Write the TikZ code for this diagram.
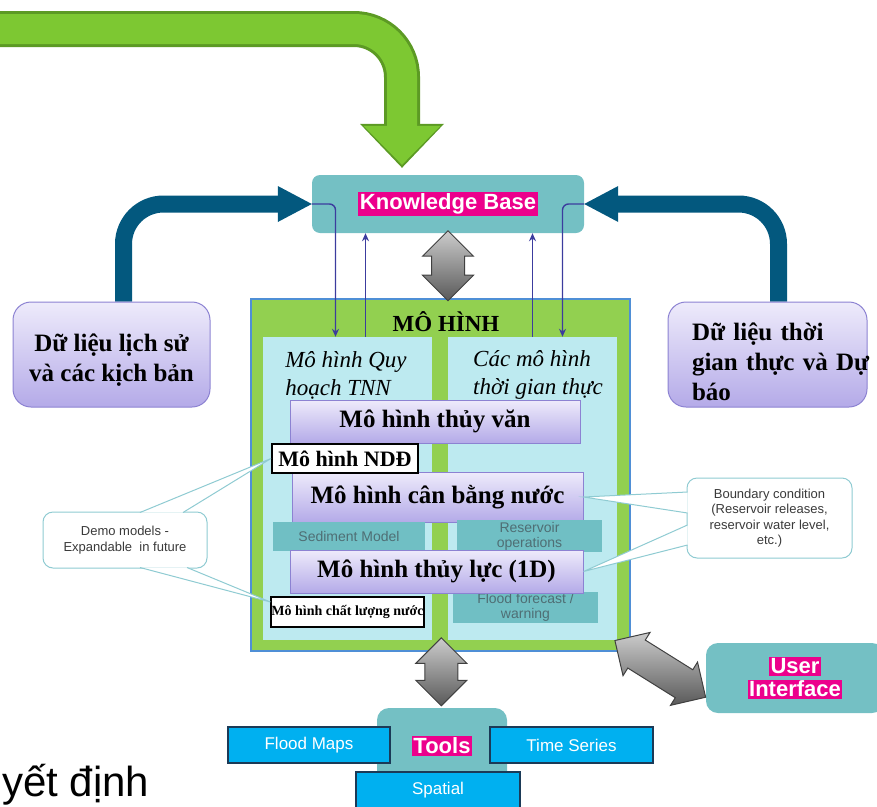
\documentclass[tikz,border=0pt]{standalone}
\usepackage{fontspec}
\setmainfont{Liberation Serif}
\setsansfont{Liberation Sans}
\usepackage{tikz}
\usetikzlibrary{calc}
\usetikzlibrary{positioning}
\usetikzlibrary{arrows.meta}
\usetikzlibrary{shapes.arrows}
\usetikzlibrary{backgrounds}

\definecolor{greenfill}{HTML}{7DC832}
\definecolor{greenline}{HTML}{5C9A24}
\definecolor{bluearrow}{HTML}{03587E}
\definecolor{tealkb}{HTML}{74C0C4}
\definecolor{tealsub}{HTML}{70BFC4}
\definecolor{tealtext}{HTML}{4F6E74}
\definecolor{modelgreen}{HTML}{92D050}
\definecolor{modeledge}{HTML}{4F8FD6}
\definecolor{panelcyan}{HTML}{BDEAF0}
\definecolor{lavtop}{HTML}{EEEBFB}
\definecolor{lavbot}{HTML}{B4AAE8}
\definecolor{lavedge}{HTML}{8C82D2}
\definecolor{toolblue}{HTML}{00B0F0}
\definecolor{tooledge}{HTML}{1B3A57}
\definecolor{linkblue}{HTML}{3C3C9E}
\definecolor{calledge}{HTML}{8FCBD2}
\definecolor{calltext}{HTML}{3A3A3A}

\newcommand{\hilite}[1]{{\setlength{\fboxsep}{1.5pt}\colorbox{magenta}{\textcolor{white}{#1}}}}

\begin{document}
\begin{tikzpicture}[x=1pt, y=-1pt, font=\sffamily]
    \tikzstyle{tealbox}=[fill=tealkb, rounded corners=8pt, inner sep=0pt, font=\sffamily\bfseries\fontsize{22}{23}\selectfont]
    \tikzstyle{lavbox}=[draw=lavedge, line width=1pt, top color=lavtop, bottom color=lavbot, inner sep=0pt]
    \tikzstyle{databox}=[lavbox, rounded corners=18pt]
    \tikzstyle{datatext}=[inner sep=0pt, font=\rmfamily\bfseries\fontsize{25}{30}\selectfont]
    \tikzstyle{modelbox}=[lavbox, font=\rmfamily\bfseries\fontsize{25}{28}\selectfont]
    \tikzstyle{panel}=[fill=panelcyan, inner sep=0pt]
    \tikzstyle{paneltext}=[inner sep=0pt, align=left, font=\rmfamily\itshape\fontsize{23}{28}\selectfont]
    \tikzstyle{whitebox}=[draw=black, line width=2pt, fill=white, inner sep=0pt]
    \tikzstyle{subbox}=[fill=tealsub, text=tealtext, inner sep=0pt, align=center, font=\sffamily\fontsize{14}{15}\selectfont]
    \tikzstyle{toolbox}=[fill=toolblue, draw=tooledge, line width=1.2pt, text=white, inner sep=0pt, font=\sffamily\fontsize{17}{20}\selectfont]
    \tikzstyle{callout}=[draw=calledge, line width=1pt, fill=white, rounded corners=10pt, text=calltext, align=center, inner sep=0pt, font=\sffamily\fontsize{13}{15.5}\selectfont]
    \tikzstyle{callline}=[draw=calledge, line width=1pt]
    \tikzstyle{bigio}=[double arrow, double arrow head extend=9pt, draw=black!75, line width=1pt, top color=black!20, bottom color=black!65, inner xsep=0pt, inner ysep=16pt]
    \tikzstyle{link}=[draw=linkblue, line width=1.4pt, -{Stealth[length=8pt,width=7pt]}]
    \tikzstyle{greenedge}=[draw=greenline, line width=36pt, rounded corners=48pt, -{Triangle[width=84pt,length=44pt,line width'=0pt]}]
    \tikzstyle{greenbody}=[draw=greenfill, line width=30pt, rounded corners=48pt, shorten >=3pt, -{Triangle[width=77pt,length=39pt,line width'=0pt]}]
    \tikzstyle{thick arrow}=[draw=bluearrow, line width=17pt, rounded corners=40pt, -{Triangle[width=36pt,length=34pt,line width'=0pt]}]

    \useasboundingbox (0,0) rectangle (877,806);

    \node[tealbox, minimum width=272pt, minimum height=58pt] (kb) at (448,204) {\hilite{Knowledge Base}};

    \node[databox, minimum width=197pt, minimum height=105pt] (hist) at (111.5,354.5) {};
    \node[datatext, align=center] (histtxt) at (111.5,360) {Dữ liệu lịch sử\\và các kịch bản};
    \node[databox, minimum width=199pt, minimum height=105pt] (real) at (767.5,354.5) {};
    \node[datatext, text width=180pt, align=left] (realtxt) at (782,362) {Dữ liệu thời\\gian thực và Dự\\báo};

    \node[draw=modeledge, line width=1.5pt, fill=modelgreen, minimum width=379pt, minimum height=352pt, inner sep=0pt] (model) at (440.5,475) {};
    \node[panel, minimum width=169pt, minimum height=303pt] (planL) at (347.5,488.5) {};
    \node[panel, minimum width=169pt, minimum height=303pt] (planR) at (532.5,488.5) {};
    \node[inner sep=0pt, font=\rmfamily\bfseries\fontsize{23}{26}\selectfont] (mtitle) at (446,322) {MÔ HÌNH};
    \node[paneltext] (planLtxt) at (346,375) {Mô hình Quy\\hoạch TNN};
    \node[paneltext] (planRtxt) at (538,375) {Các mô hình\\thời gian thực};

    \node[modelbox, minimum width=290pt, minimum height=43pt] (hydro) at (435,421.5) {Mô hình thủy văn};
    \node[modelbox, minimum width=291pt, minimum height=50pt] (balance) at (437.5,497) {Mô hình cân bằng nước};
    \node[subbox, minimum width=152pt, minimum height=29pt] (sediment) at (349,536.5) {Sediment Model};
    \node[subbox, minimum width=145pt, minimum height=32pt] (reservoir) at (529.5,536) {Reservoir\\operations};
    \node[subbox, minimum width=145pt, minimum height=31pt] (forecast) at (525.5,607.5) {Flood forecast /\\warning};
    \node[modelbox, minimum width=293pt, minimum height=43pt] (hydraulic) at (436.5,571.5) {Mô hình thủy lực (1D)};
    \node[whitebox, minimum width=146pt, minimum height=29pt, font=\rmfamily\bfseries\fontsize{22}{24}\selectfont] (ndd) at (345,458.5) {Mô hình NDĐ};
    \node[whitebox, minimum width=151pt, minimum height=30pt, font=\rmfamily\bfseries\fontsize{14}{16}\selectfont] (wq) at (347.5,612) {Mô hình chất lượng nước};

    \node[callout, minimum width=164pt, minimum height=56pt] (demo) at (125,540) {Demo models -\\Expandable~~in future};
    \fill[white] ([xshift=15pt,yshift=-1pt]demo.north) -- (ndd.west) -- ([xshift=58pt,yshift=-1pt]demo.north) -- cycle;
    \draw[callline] ([xshift=15pt,yshift=-1pt]demo.north) -- (ndd.west) -- ([xshift=58pt,yshift=-1pt]demo.north);
    \fill[white] ([xshift=15pt,yshift=1pt]demo.south) -- ([yshift=10pt]wq.west) -- ([xshift=62pt,yshift=1pt]demo.south) -- cycle;
    \draw[callline] ([xshift=15pt,yshift=1pt]demo.south) -- ([yshift=10pt]wq.west) -- ([xshift=62pt,yshift=1pt]demo.south);

    \node[callout, minimum width=165pt, minimum height=80pt] (boundary) at (769.5,518) {Boundary condition\\(Reservoir releases,\\reservoir water level,\\etc.)};
    \fill[white] ([xshift=1pt,yshift=26pt]boundary.west) -- (balance.east) -- ([xshift=1pt,yshift=5pt]boundary.west) -- cycle;
    \draw[callline] ([xshift=1pt,yshift=26pt]boundary.west) -- (balance.east) -- ([xshift=1pt,yshift=5pt]boundary.west);
    \fill[white] ([xshift=1pt,yshift=-7pt]boundary.west) -- (hydraulic.east) -- ([xshift=1pt,yshift=-27pt]boundary.west) -- cycle;
    \draw[callline] ([xshift=1pt,yshift=-7pt]boundary.west) -- (hydraulic.east) -- ([xshift=1pt,yshift=-27pt]boundary.west);

    \node[tealbox, rounded corners=12pt, minimum width=130pt, minimum height=76pt] (tools) at (442,746) {\hilite{Tools}};
    \node[toolbox, minimum width=162pt, minimum height=36pt] (floodmaps) at (309,745) {Flood Maps};
    \node[toolbox, minimum width=163pt, minimum height=36pt] (timeseries) at (571.5,745) {Time Series};
    \node[toolbox, minimum width=164pt, minimum height=36pt] (spatial) at (438,790) {Spatial};
    \node[tealbox, rounded corners=12pt, minimum width=178pt, minimum height=70pt, align=center] (ui) at (795,678) {\hilite{User}\\\hilite{Interface}};

    \node[bigio, rotate=90, minimum height=70pt] (kbio) at ($(kb.south)!0.5!(kb.south |- model.north)$) {};
    \node[bigio, rotate=90, minimum height=68pt] (toolio) at ($(model.south)!0.5!(tools.north)+(0,-8)$) {};
    \node[bigio, rotate=-32, minimum height=107pt] (uiio) at ($(model.south east)!0.5!(ui.west)+(-8,4)$) {};

    \coordinate (l1) at ([xshift=-12pt]planL.north);
    \coordinate (l2) at ([xshift=18pt]planL.north);
    \coordinate (r1) at (planR.north);
    \coordinate (r2) at ([xshift=30pt]planR.north);
    \draw[link, rounded corners=6pt] (kb.west) -| (l1);
    \draw[link] (l2) -- (l2 |- kb.south);
    \draw[link] (r1) -- (r1 |- kb.south);
    \draw[link, rounded corners=6pt] (kb.east) -| (r2);

    \node[anchor=base west, inner sep=0pt, font=\sffamily\fontsize{42}{48}\selectfont] (decide) at (2,796) {yết định};

    \coordinate (greenin) at (-20,29);
    \coordinate (greentip) at ([xshift=-46pt,yshift=7pt]kb.north);
    \begin{scope}[on background layer]
        \draw[greenedge] (greenin) -| (greentip);
        \draw[greenbody] (greenin) -| (greentip);
        \draw[thick arrow] ([xshift=12pt]hist.north) |- (kb.west);
        \draw[thick arrow] ([xshift=11pt]real.north) |- (kb.east);
    \end{scope}
\end{tikzpicture}
\end{document}
